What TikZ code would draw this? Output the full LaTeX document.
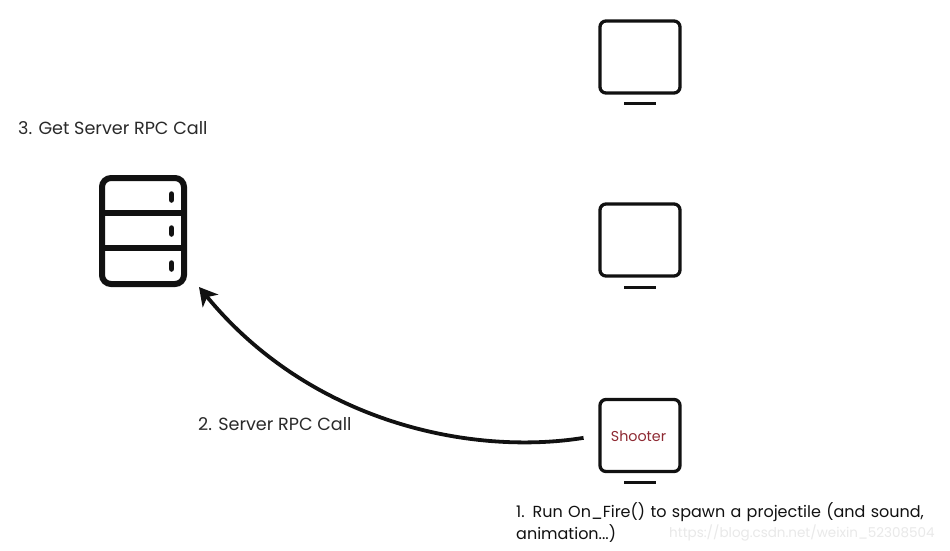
\documentclass[tikz,border=0pt]{standalone}
\usepackage{fontspec}
\setmainfont{Poppins}
\usetikzlibrary{arrows.meta,calc}
\definecolor{ink}{HTML}{111111}
\definecolor{labelink}{HTML}{2A2A2A}
\definecolor{shootred}{HTML}{8E2A33}
\definecolor{wmark}{HTML}{E9E9E9}
\tikzset{
  monitor/.style={draw=ink,line width=3.3pt,rounded corners=6pt,minimum width=80pt,minimum height=72pt,inner sep=0pt,fill=white},
  stand/.style={draw=ink,line width=3pt},
  server/.style={draw=ink,line width=6pt,rounded corners=9pt,minimum width=82pt,minimum height=106pt,inner sep=0pt},
  divider/.style={draw=ink,line width=6.5pt},
  led/.style={draw=ink,line width=5.5pt,line cap=round},
  label/.style={text=labelink,font=\fontsize{17.6}{22}\selectfont,anchor=west,inner sep=0pt},
  note/.style={text=ink,font=\fontsize{16}{22}\selectfont,align=left,anchor=north west,inner sep=0pt,text width=430pt},
  flow/.style={draw=ink,line width=3.8pt,-{Stealth[length=18pt,width=20pt,inset=5pt]}}
}
\begin{document}
\begin{tikzpicture}[x=1pt,y=-1pt]
\useasboundingbox (0,0) rectangle (950,550);
\fill[white] (0,0) rectangle (950,550);
% monitors
\node[monitor] (m1) at (640,57) {};
\node[monitor] (m2) at (640,240) {};
\node[monitor] (m3) at (640,435.5) {};
\node[text=shootred,font=\fontsize{14.3}{16}\selectfont,inner sep=0pt] (shooterlabel) at (638.5,436.5) {Shooter};
\draw[stand] (624,103) -- (656,103);
\draw[stand] (624,287) -- (656,287);
\draw[stand] (624,482) -- (656,482);
% server
\node[server] (srv) at (143,231) {};
\draw[divider] (102,213) -- (184,213);
\draw[divider] (102,248) -- (184,248);
\draw[led] (171.5,194) -- (171.5,200);
\draw[led] (171.5,228) -- (171.5,234);
\draw[led] (171.5,263) -- (171.5,269);
% labels
\node[label] (l3) at (18,128.5) {3. Get Server RPC Call};
\node[label] (l2) at (198,424.5) {2. Server RPC Call};
\node[note] (l1) at (516,502) {1. Run On\_Fire() to spawn a projectile (and sound,\\animation...)};
\node[text=wmark,font=\fontsize{13.5}{16}\selectfont,anchor=west,inner sep=0pt] (wm) at (669,533) {https://blog.csdn.net/weixin\_52308504};
% connector
\coordinate (tip) at ($(srv.south east)+(12,0)$);
\draw[flow,shorten <=15pt]
  (m3.west) .. controls (470,456) and (310,422) .. (tip);
\end{tikzpicture}
\end{document}
